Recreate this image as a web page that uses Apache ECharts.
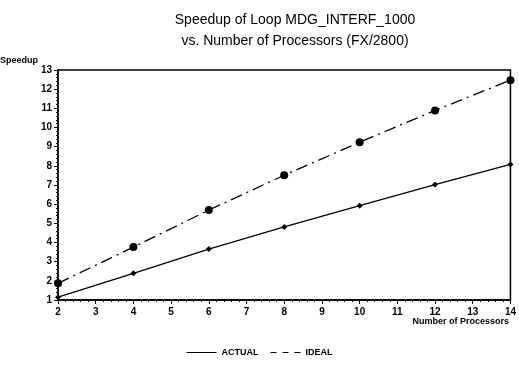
<!DOCTYPE html>
<html>
<head>
<meta charset="utf-8">
<script src="https://cdn.jsdelivr.net/npm/echarts@6/dist/echarts.min.js"></script>
<style>html,body{margin:0;padding:0;background:#fff}#c{width:519px;height:372px}</style>
</head>
<body>
<div id="c"></div>
<script>
var processors = [2, 4, 6, 8, 10, 12, 14];
var actual = [1.15, 2.39, 3.66, 4.81, 5.92, 7.02, 8.07];
var ideal = [1.87, 3.76, 5.69, 7.51, 9.23, 10.89, 12.47];
var titleLines = ['Speedup of Loop MDG_INTERF_1000', 'vs. Number of Processors (FX/2800)'];

function pairs(xs, ys) { return xs.map(function (x, i) { return [x, ys[i]]; }); }

var chart = echarts.init(document.getElementById('c'));
var font = 'Liberation Sans, Arial, sans-serif';
chart.setOption({
  animation: false,
  backgroundColor: '#fff',
  title: {
    text: titleLines.join('\n'),
    left: 290, textAlign: 'center', top: 5,
    textStyle: { fontFamily: font, fontSize: 14, fontWeight: 'normal', color: '#000', lineHeight: 21 }
  },
  grid: { left: 58, right: 7, top: 70, bottom: 72, show: true, borderColor: '#000', borderWidth: 1.5 },
  xAxis: {
    type: 'value', min: 2, max: 14, interval: 1,
    axisLine: { lineStyle: { color: '#000', width: 1.5 } },
    axisTick: { show: true, length: 4, inside: false, lineStyle: { color: '#000' } },
    minorTick: { show: true, splitNumber: 5, length: 2, lineStyle: { color: '#000' } },
    splitLine: { show: false },
    axisLabel: { fontFamily: font, fontSize: 10, fontWeight: 'bold', color: '#000', margin: 7 }
  },
  yAxis: {
    type: 'value', min: 1, max: 13, interval: 1,
    axisLine: { lineStyle: { color: '#000', width: 1.5 } },
    axisTick: { show: true, length: 4, lineStyle: { color: '#000' } },
    minorTick: { show: true, splitNumber: 5, length: 2, lineStyle: { color: '#000' } },
    splitLine: { show: false },
    axisLabel: { fontFamily: font, fontSize: 10, fontWeight: 'bold', color: '#000', margin: 6 }
  },
  legend: {
    bottom: 10, left: 'center',
    itemWidth: 30, itemHeight: 8, itemGap: 12,
    textStyle: { fontFamily: font, fontSize: 9, fontWeight: 'bold', color: '#000', padding: [0, 0, 8, 0] },
    data: [
      { name: 'ACTUAL', icon: 'path://M0,9 L30,9 L30,10 L0,10 Z' },
      { name: 'IDEAL', icon: 'path://M0,9 L6,9 L6,10 L0,10 Z M12,9 L18,9 L18,10 L12,10 Z M24,9 L30,9 L30,10 L24,10 Z' }
    ]
  },
  graphic: [
    { type: 'text', left: 0, top: 56, style: { text: 'Speedup', fontFamily: font, fontSize: 9, fontWeight: 'bold', fill: '#000' } },
    { type: 'text', right: 10, top: 317, style: { text: 'Number of Processors', fontFamily: font, fontSize: 9, fontWeight: 'bold', fill: '#000' } }
  ],
  series: [
    {
      name: 'ACTUAL', type: 'line', data: pairs(processors, actual),
      symbol: 'diamond', symbolSize: 6,
      itemStyle: { color: '#000' },
      lineStyle: { color: '#000', width: 1.3, type: 'solid' }
    },
    {
      name: 'IDEAL', type: 'line', data: pairs(processors, ideal),
      symbol: 'circle', symbolSize: 8,
      itemStyle: { color: '#000' },
      lineStyle: { color: '#000', width: 1.3, type: [12, 5, 2, 5] }
    }
  ]
});
</script>
</body>
</html>
